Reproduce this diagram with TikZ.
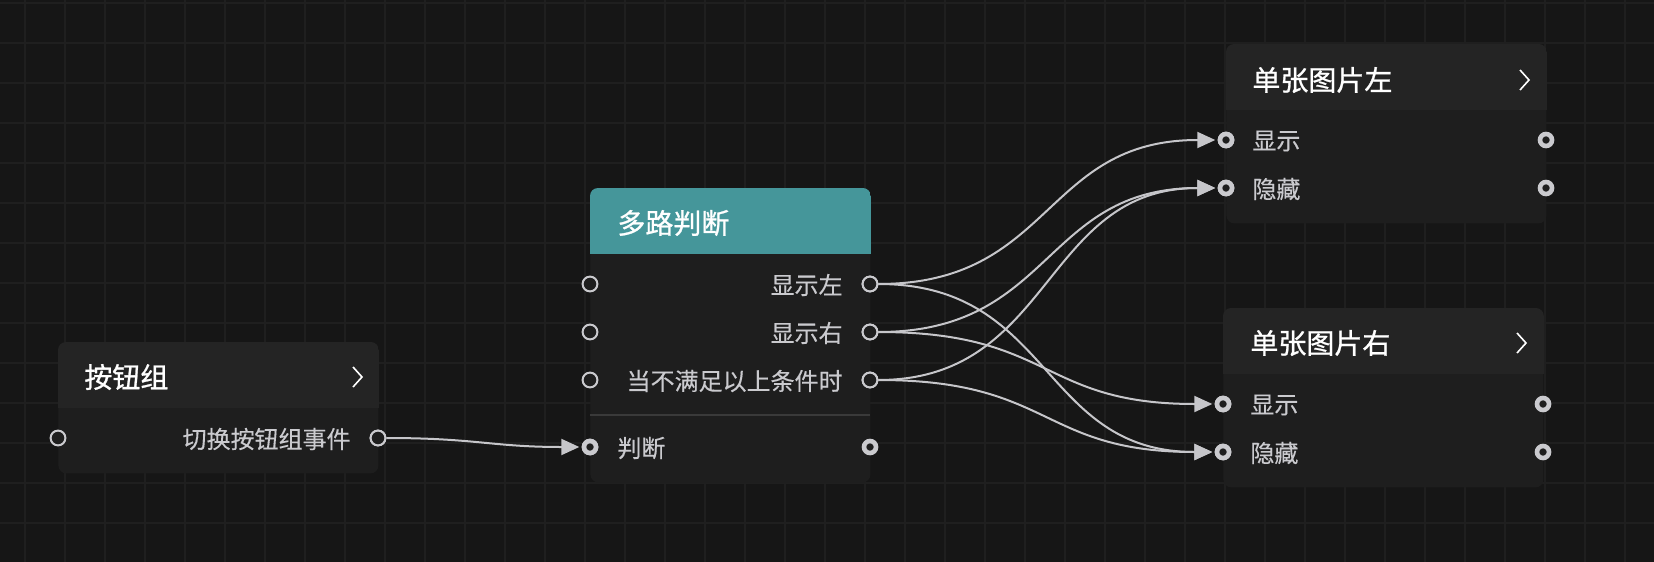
\documentclass[tikz,border=0pt]{standalone}
\usepackage{fontspec}
\newfontfamily\cjk[FakeBold=0.3]{Noto Sans CJK SC}
\newfontfamily\cjkt[FakeBold=0.9]{Noto Sans CJK SC}
\usetikzlibrary{arrows.meta}
\definecolor{bg}{HTML}{161616}
\definecolor{gridc}{HTML}{1F1F1F}
\definecolor{hdr}{HTML}{242424}
\definecolor{bodyc}{HTML}{1E1E1E}
\definecolor{tealc}{HTML}{45969A}
\definecolor{sepc}{HTML}{3A3A3A}
\definecolor{wire}{HTML}{C6C6CA}
\definecolor{rowtxt}{HTML}{CACACE}
\tikzset{
  box/.style={rectangle, rounded corners=4pt, fill=bodyc, inner sep=0pt, anchor=north west},
  title/.style={anchor=west, inner sep=0pt, text=white, font=\fontsize{14pt}{16pt}\cjkt},
  rowl/.style={anchor=west, inner sep=0pt, text=rowtxt, font=\fontsize{12pt}{14pt}\cjk},
  rowr/.style={anchor=east, inner sep=0pt, text=rowtxt, font=\fontsize{12pt}{14pt}\cjk},
  portthin/.style={circle, inner sep=0pt, minimum size=7.4pt, draw=rowtxt, line width=1pt, fill=bodyc},
  portthick/.style={circle, inner sep=0pt, minimum size=6pt, draw=rowtxt, line width=2.3pt, fill=bodyc},
  wireln/.style={draw=wire, line width=1pt, -{Triangle[length=9pt,width=8pt]}, shorten >=1.2pt},
  chev/.style={draw=white, line width=0.8pt},
}
\begin{document}
\begin{tikzpicture}[x=0.5pt,y=-0.5pt]
\useasboundingbox (0,0) rectangle (1654,562);
\fill[bg] (0,0) rectangle (1654,562);
\foreach \x in {25,65,...,1654} \draw[gridc, line width=1pt] (\x,0) -- (\x,562);
\foreach \y in {3,43,...,562} \draw[gridc, line width=1pt] (0,\y) -- (1654,\y);

% boxes
\node[box, minimum width=160pt, minimum height=65.5pt] (n1) at (58,342) {};
\node[box, minimum width=140pt, minimum height=147pt] (n2) at (590,188) {};
\node[box, minimum width=160pt, minimum height=89.5pt] (n3) at (1226,44) {};
\node[box, minimum width=160pt, minimum height=89.5pt] (n4) at (1223,308) {};

\begin{scope}
\clip[rounded corners=4pt] (n1.north west) rectangle (n1.south east);
\fill[hdr] (n1.north west) rectangle ([yshift=-33pt]n1.north east);
\end{scope}
\begin{scope}
\clip[rounded corners=4pt] (n2.north west) rectangle (n2.south east);
\fill[tealc] (n2.north west) rectangle ([yshift=-33pt]n2.north east);
\end{scope}
\begin{scope}
\clip[rounded corners=4pt] (n3.north west) rectangle (n3.south east);
\fill[hdr] (n3.north west) rectangle ([yshift=-33pt]n3.north east);
\end{scope}
\begin{scope}
\clip[rounded corners=4pt] (n4.north west) rectangle (n4.south east);
\fill[hdr] (n4.north west) rectangle ([yshift=-33pt]n4.north east);
\end{scope}
\draw[sepc, line width=1pt] (590,415) -- (870,415);

% titles
\node[title] (t1) at (84,377) {按钮组};
\node[title] (t2) at (617,223) {多路判断};
\node[title] (t3) at (1252,80) {单张图片左};
\node[title] (t4) at (1250,343) {单张图片右};
\draw[chev] (353,367) -- (362,377) -- (353,387);
\draw[chev] (1520,70) -- (1529,80) -- (1520,90);
\draw[chev] (1517,333) -- (1526,343) -- (1517,353);

% row texts
\node[rowr] (r1) at (351,439) {切换按钮组事件};
\node[rowr] (r2a) at (843,285) {显示左};
\node[rowr] (r2b) at (843,333) {显示右};
\node[rowr] (r2c) at (843,381) {当不满足以上条件时};
\node[rowl] (r2d) at (617,448) {判断};
\node[rowl] (r3a) at (1252,141) {显示};
\node[rowl] (r3b) at (1252,189) {隐藏};
\node[rowl] (r4a) at (1250,405) {显示};
\node[rowl] (r4b) at (1250,453) {隐藏};

% port coordinates (ports drawn after wires)
\path (58,438) coordinate (c1i) (378,438) coordinate (c1o)
      (590,284) coordinate (c2al) (590,332) coordinate (c2bl) (590,380) coordinate (c2cl)
      (870,284) coordinate (c2a) (870,332) coordinate (c2b) (870,380) coordinate (c2c)
      (590,447) coordinate (c2i) (870,447) coordinate (c2o)
      (1226,140) coordinate (c3a) (1226,188) coordinate (c3b)
      (1546,140) coordinate (c3ao) (1546,188) coordinate (c3bo)
      (1223,404) coordinate (c4a) (1223,452) coordinate (c4b)
      (1543,404) coordinate (c4ao) (1543,452) coordinate (c4bo);

\node[portthin] (p1i) at (c1i) {};
\node[portthin] (p1o) at (c1o) {};
\node[portthin] (p2al) at (c2al) {};
\node[portthin] (p2bl) at (c2bl) {};
\node[portthin] (p2cl) at (c2cl) {};
\node[portthin] (p2a) at (c2a) {};
\node[portthin] (p2b) at (c2b) {};
\node[portthin] (p2c) at (c2c) {};
\node[portthick] (p2i) at (c2i) {};
\node[portthick] (p2o) at (c2o) {};
\node[portthick] (p3a) at (c3a) {};
\node[portthick] (p3b) at (c3b) {};
\node[portthick] (p3ao) at (c3ao) {};
\node[portthick] (p3bo) at (c3bo) {};
\node[portthick] (p4a) at (c4a) {};
\node[portthick] (p4b) at (c4b) {};
\node[portthick] (p4ao) at (c4ao) {};
\node[portthick] (p4bo) at (c4bo) {};

% wires
\draw[wireln] (p1o.east) .. controls +(90,0) and +(-90,0) .. (p2i.west);
\draw[wireln] (p2a.east) .. controls +(175,0) and +(-175,0) .. (p3a.west);
\draw[wireln] (p2a.east) .. controls +(175,0) and +(-175,0) .. (p4b.west);
\draw[wireln] (p2b.east) .. controls +(175,0) and +(-175,0) .. (p3b.west);
\draw[wireln] (p2b.east) .. controls +(175,0) and +(-175,0) .. (p4a.west);
\draw[wireln] (p2c.east) .. controls +(175,0) and +(-175,0) .. (p3b.west);
\draw[wireln] (p2c.east) .. controls +(175,0) and +(-175,0) .. (p4b.west);

% redraw ports over wire ends
\foreach \p in {p1o,p2a,p2b,p2c} \node[portthin] at (\p) {};
\foreach \p in {p2i,p3a,p3b,p4a,p4b} \node[portthick] at (\p) {};
\end{tikzpicture}
\end{document}
